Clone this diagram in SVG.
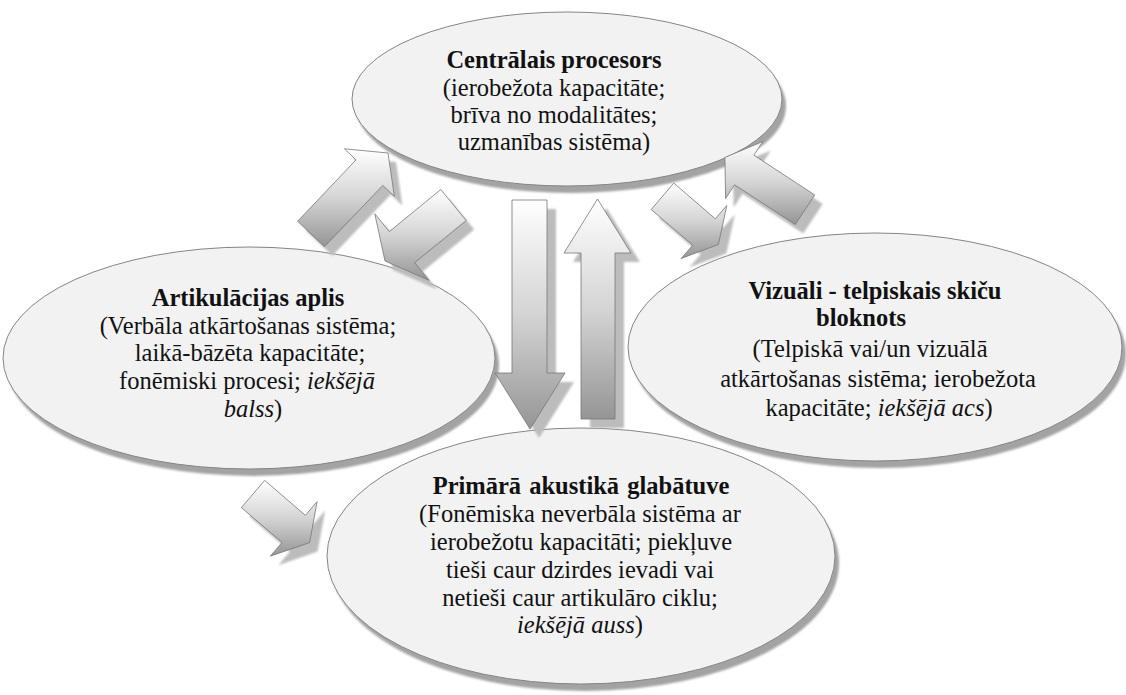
<svg xmlns="http://www.w3.org/2000/svg" width="1126" height="695" viewBox="0 0 1126 695">
  <defs>
    <linearGradient id="arrowFill" x1="0" y1="0" x2="0" y2="1">
      <stop offset="0" stop-color="#ffffff"/>
      <stop offset="0.5" stop-color="#d4d4d4"/>
      <stop offset="1" stop-color="#959595"/>
    </linearGradient>
    <filter id="soft" x="-10%" y="-10%" width="120%" height="120%">
      <feGaussianBlur stdDeviation="1"/>
    </filter>
  </defs>
  <style>
    .bubble { fill: #f2f2f2; stroke: #858585; stroke-width: 1; }
    .bubble-shadow { fill: #a3a3a3; filter: url(#soft); }
    .arrow { fill: url(#arrowFill); stroke: #767676; stroke-width: 0.8; stroke-linejoin: miter; }
    .arrow-shadow { fill: #bcbcbc; filter: url(#soft); }
    text { font-family: "Liberation Serif", "Times New Roman", serif; font-size: 24.5px; fill: #111; text-anchor: middle; }
    .title { font-weight: bold; }
    .em { font-style: italic; }
  </style>

  <rect width="1126" height="695" fill="#ffffff"/>

  <!-- central processor -->
  <g id="central-processor">
    <ellipse class="bubble-shadow" cx="571" cy="106" rx="215" ry="87"/>
    <ellipse class="bubble" cx="567" cy="99" rx="215" ry="87"/>
    <text class="title" x="554" y="68">Centrālais procesors</text>
    <text x="554" y="96">(ierobežota kapacitāte;</text>
    <text x="554" y="123">brīva no modalitātes;</text>
    <text x="554" y="150">uzmanības sistēma)</text>
  </g>

  <!-- articulatory loop -->
  <g id="articulatory-loop">
    <ellipse class="bubble-shadow" cx="253" cy="365" rx="246" ry="111"/>
    <ellipse class="bubble" cx="249" cy="358" rx="246" ry="111"/>
    <text class="title" x="248" y="306">Artikulācijas aplis</text>
    <text x="248" y="334">(Verbāla atkārtošanas sistēma;</text>
    <text x="250" y="361">laikā-bāzēta kapacitāte;</text>
    <text x="247" y="389">fonēmiski procesi; <tspan class="em">iekšējā</tspan></text>
    <text x="253" y="417"><tspan class="em">balss</tspan>)</text>
  </g>

  <!-- visuo-spatial sketchpad -->
  <g id="visuospatial-sketchpad">
    <ellipse class="bubble-shadow" cx="879" cy="354" rx="247" ry="114"/>
    <ellipse class="bubble" cx="875" cy="347" rx="247" ry="114"/>
    <text class="title" x="875" y="299">Vizuāli - telpiskais skiču</text>
    <text class="title" x="861" y="326">bloknots</text>
    <text x="870" y="357">(Telpiskā vai/un vizuālā</text>
    <text x="878" y="387">atkārtošanas sistēma; ierobežota</text>
    <text x="879" y="416">kapacitāte; <tspan class="em">iekšējā acs</tspan>)</text>
  </g>

  <!-- primary acoustic store -->
  <g id="primary-acoustic-store">
    <ellipse class="bubble-shadow" cx="585" cy="563" rx="254" ry="128"/>
    <ellipse class="bubble" cx="581" cy="556" rx="254" ry="128"/>
    <text class="title" x="581" y="494" word-spacing="2">Primārā akustikā glabātuve</text>
    <text x="580" y="522">(Fonēmiska neverbāla sistēma ar</text>
    <text x="581" y="550">ierobežotu kapacitāti; piekļuve</text>
    <text x="580" y="578">tieši caur dzirdes ievadi vai</text>
    <text x="580" y="606">netieši caur artikulāro ciklu;</text>
    <text x="580" y="633"><tspan class="em">iekšējā auss</tspan>)</text>
  </g>

  <!-- block arrows between the components -->
  <g id="connectors">
    <!-- loop -> processor -->
    <g id="arrow-loop-to-cp">
      <polygon class="arrow-shadow" transform="translate(8,9)" points="324.4,246.7 382.8,185.4 394.4,196.4 388,153 344.4,148.8 356.0,159.9 297.6,221.3"/>
      <polygon class="arrow" points="324.4,246.7 382.8,185.4 394.4,196.4 388,153 344.4,148.8 356.0,159.9 297.6,221.3"/>
    </g>
    <!-- processor -> loop -->
    <g id="arrow-cp-to-loop">
      <polygon class="arrow-shadow" transform="translate(8,9)" points="440.8,189.5 389.3,231.6 374.8,213.8 385,261 429.2,280.4 414.7,262.6 466.2,220.5"/>
      <polygon class="arrow" points="440.8,189.5 389.3,231.6 374.8,213.8 385,261 429.2,280.4 414.7,262.6 466.2,220.5"/>
    </g>
    <!-- processor -> sketchpad -->
    <g id="arrow-cp-to-sketchpad">
      <polygon class="arrow-shadow" transform="translate(8,9)" points="651.2,209.5 692.7,245.2 681.2,258.5 718.4,244.4 726.8,205.5 715.3,218.8 673.8,183.1"/>
      <polygon class="arrow" points="651.2,209.5 692.7,245.2 681.2,258.5 718.4,244.4 726.8,205.5 715.3,218.8 673.8,183.1"/>
    </g>
    <!-- sketchpad -> processor -->
    <g id="arrow-sketchpad-to-cp">
      <polygon class="arrow-shadow" transform="translate(8,9)" points="814.7,194.9 753.9,155.2 762.8,141.5 724.9,157.4 725.6,198.5 734.5,184.8 795.3,224.5"/>
      <polygon class="arrow" points="814.7,194.9 753.9,155.2 762.8,141.5 724.9,157.4 725.6,198.5 734.5,184.8 795.3,224.5"/>
    </g>
    <!-- processor -> acoustic store -->
    <g id="arrow-cp-to-store">
      <polygon class="arrow-shadow" transform="translate(9,9)" points="512,200 547,200 547,373 565,373 530,429 495,373 512,373"/>
      <polygon class="arrow" points="512,200 547,200 547,373 565,373 530,429 495,373 512,373"/>
    </g>
    <!-- acoustic store -> processor -->
    <g id="arrow-store-to-cp">
      <polygon class="arrow-shadow" transform="translate(9,9)" points="597.5,199 631,253 615,253 615,419 581,419 581,253 564,253"/>
      <polygon class="arrow" points="597.5,199 631,253 615,253 615,419 581,419 581,253 564,253"/>
    </g>
    <!-- loop -> acoustic store -->
    <g id="arrow-loop-to-store">
      <polygon class="arrow-shadow" transform="translate(8,9)" points="241.4,507.6 282.0,542.5 270.3,556.2 309.6,542.6 317.1,501.6 305.4,515.3 264.7,480.4"/>
      <polygon class="arrow" points="241.4,507.6 282.0,542.5 270.3,556.2 309.6,542.6 317.1,501.6 305.4,515.3 264.7,480.4"/>
    </g>
  </g>
</svg>
